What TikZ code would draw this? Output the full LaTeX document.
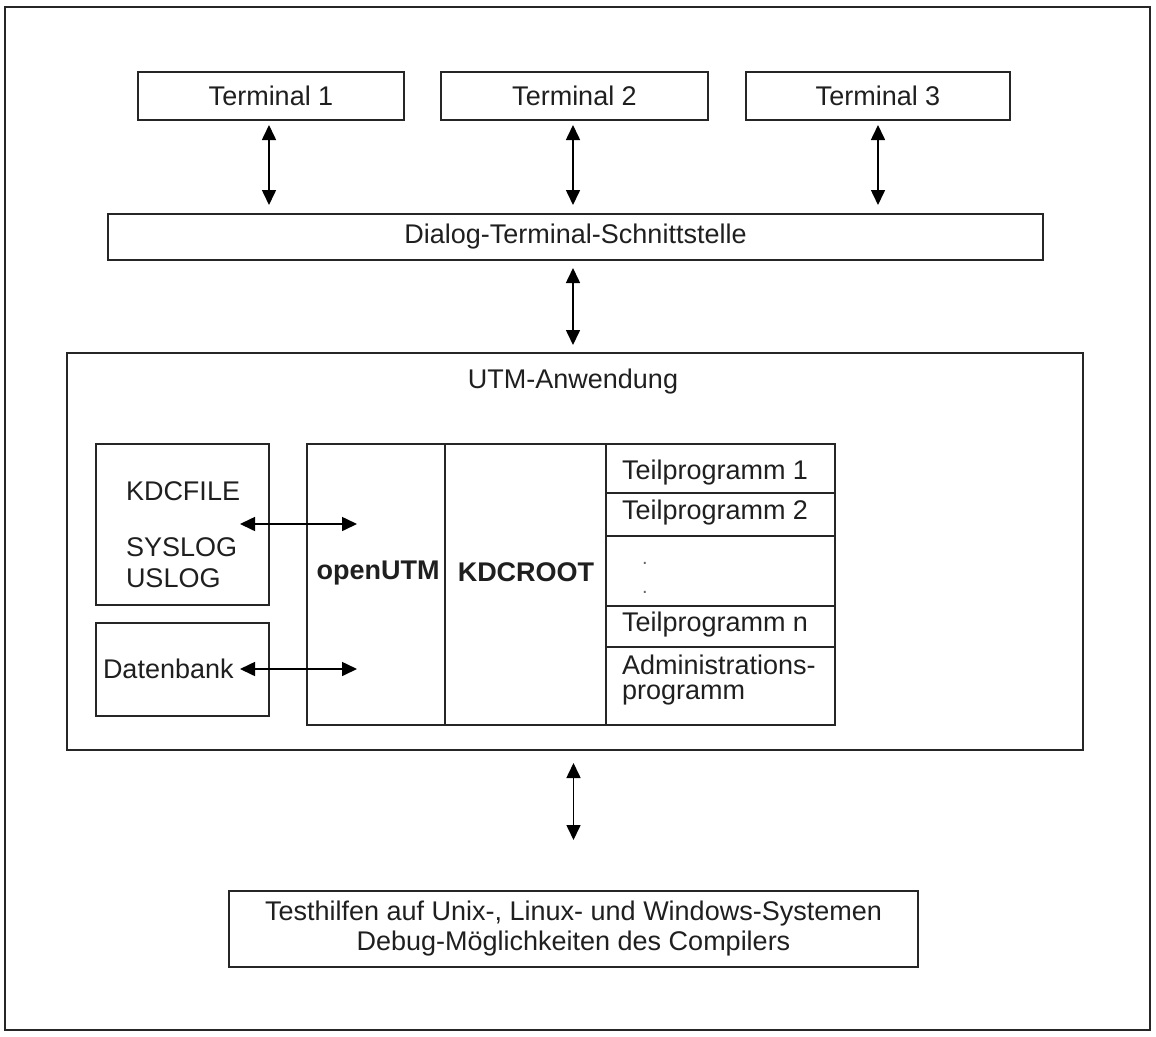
\documentclass[tikz,border=0pt]{standalone}
\usepackage{fontspec}
\setmainfont{Liberation Sans}
\usetikzlibrary{arrows.meta}
\begin{document}
\begin{tikzpicture}[x=1pt,y=-1pt,
  every node/.style={font=\fontsize{27pt}{30pt}\selectfont, text=black!88},
  box/.style={draw=black!85, line width=1.6pt, inner sep=0pt, outer sep=0pt},
  lbl/.style={inner sep=0pt, outer sep=0pt},
  arr/.style={line width=1.6pt, draw=black, {Triangle[length=15pt,width=14pt]}-{Triangle[length=15pt,width=14pt]}}]
\useasboundingbox (0,0) rectangle (1156,1036);
\draw[line width=1.8pt, draw=black!85] (5,7) rectangle (1150,1030);
% terminals
\node[box, minimum width=266pt, minimum height=48pt] (t1) at (271,96) {Terminal 1};
\node[box, minimum width=267pt, minimum height=48pt] (t2) at (574.5,96) {Terminal 2};
\node[box, minimum width=264pt, minimum height=48pt] (t3) at (878,96) {Terminal 3};
\node[box, minimum width=935pt, minimum height=46pt] (dlg) at (575.5,237) {Dialog-Terminal-Schnittstelle};
\draw[arr, shorten <=5pt, shorten >=9pt] ([xshift=-2pt]t1.south) -- ([xshift=-2pt]t1.south |- dlg.north);
\draw[arr, shorten <=5pt, shorten >=9pt] ([xshift=-1.5pt]t2.south) -- ([xshift=-1.5pt]t2.south |- dlg.north);
\draw[arr, shorten <=5pt, shorten >=9pt] (t3.south) -- (t3.south |- dlg.north);
% UTM application
\node[box, minimum width=1016pt, minimum height=397pt] (utm) at (575,551.5) {};
\draw[arr, shorten <=8pt, shorten >=8pt] ([xshift=-2.5pt]dlg.south) -- ([xshift=-2.5pt]dlg.south |- utm.north);
\node[lbl] (utmt) at (573,382) {UTM-Anwendung};
% left boxes
\node[box, minimum width=173pt, minimum height=161pt] (kf) at (182.5,524.5) {};
\node[box, minimum width=173pt, minimum height=93pt] (db) at (182.5,669.5) {};
\node[lbl, anchor=west] (kdcfile) at (126,491) {KDCFILE};
\node[lbl, anchor=west] (syslog) at (126,547) {SYSLOG};
\node[lbl, anchor=west] (uslog) at (126,578) {USLOG};
\node[lbl, anchor=west] (dbt) at (103,669) {Datenbank};
% main block
\node[box, minimum width=138pt, minimum height=281pt] (ou) at (376,584.5) {};
\node[box, minimum width=161pt, minimum height=281pt] (kr) at (525.5,584.5) {};
\node[lbl, font=\fontsize{27pt}{30pt}\selectfont\bfseries] (out) at (378,573) {openUTM};
\node[lbl, font=\fontsize{27pt}{30pt}\selectfont\bfseries] (krt) at (526,572) {KDCROOT};
% right column rows
\node[box, minimum width=229pt, minimum height=49pt] (r1) at (720.5,468.5) {};
\node[box, minimum width=229pt, minimum height=43pt] (r2) at (720.5,514.5) {};
\node[box, minimum width=229pt, minimum height=70pt] (r3) at (720.5,571) {};
\node[box, minimum width=229pt, minimum height=41pt] (r4) at (720.5,626.5) {};
\node[box, minimum width=229pt, minimum height=78pt] (r5) at (720.5,686) {};
\node[lbl, anchor=west] (tp1) at (622,473) {Teilprogramm 1};
\node[lbl, anchor=west] (tp2) at (622,513) {Teilprogramm 2};
\node[lbl, font=\fontsize{20pt}{22pt}\selectfont, text=black!60] (d1) at (645,563) {.};
\node[lbl, font=\fontsize{20pt}{22pt}\selectfont, text=black!60] (d2) at (645,592) {.};
\node[lbl, anchor=west] (tpn) at (622,625) {Teilprogramm n};
\node[lbl, anchor=west] (adm1) at (622,665) {Administrations-};
\node[lbl, anchor=west] (adm2) at (622,695) {programm};
% inner arrows
\coordinate (a1s) at (240,524);
\coordinate (a1e) at (357,524);
\coordinate (a2s) at (240,669);
\coordinate (a2e) at (357,669);
\draw[arr] (a1s) -- (a1e);
\draw[arr] (a2s) -- (a2e);
% bottom
\node[box, minimum width=689pt, minimum height=76pt, align=center] (th) at (573.5,929)
  {Testhilfen auf Unix-, Linux- und Windows-Systemen\\Debug-Möglichkeiten des Compilers};
\draw[arr, shorten <=13pt, shorten >=51pt] (utm.south -| th.north) -- (th.north);
\end{tikzpicture}
\end{document}
